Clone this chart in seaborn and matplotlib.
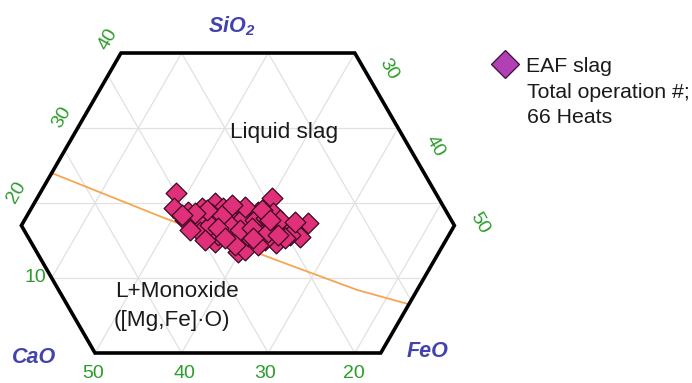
import matplotlib
matplotlib.use("Agg")
import matplotlib.pyplot as plt
import numpy as np
import pandas as pd
import seaborn as sns
from matplotlib.patches import Polygon
from matplotlib.lines import Line2D

# ---------------- data (wt%, section with CaO + SiO2 + FeO = 70) ----------------
cao = [30.0, 31.2, 29.9, 28.0, 26.1, 25.6, 24.1, 30.1, 28.3, 28.8,
       26.8, 26.7, 25.3, 26.8, 28.7, 26.6, 29.2, 19.2, 20.1, 23.1,
       21.8, 23.4, 22.2, 21.2, 20.0, 18.8, 16.7, 18.6, 21.9, 25.8,
       23.0, 30.8, 27.2, 25.5, 23.9, 22.7, 21.3, 19.8, 19.6, 29.8,
       27.9, 24.5, 22.8, 25.9, 28.2, 25.1, 23.5, 22.0, 20.4, 26.1,
       27.5, 29.1, 30.8, 26.6, 24.0, 21.0, 18.2, 22.9, 24.3, 27.5,
       21.2, 24.1, 27.3, 29.8, 30.8, 20.9]
sio2 = [21.3, 19.3, 18.8, 19.3, 20.0, 19.3, 19.1, 17.1, 18.0, 16.4,
        17.5, 16.1, 17.1, 13.5, 14.8, 15.1, 18.0, 20.7, 18.7, 18.7,
        18.8, 17.3, 17.1, 16.7, 16.7, 16.7, 17.3, 15.5, 14.7, 13.7,
        16.0, 17.7, 18.5, 18.3, 18.0, 17.7, 18.0, 17.7, 15.7, 16.1,
        15.7, 15.6, 15.1, 17.1, 17.1, 16.4, 16.7, 16.1, 15.3, 18.4,
        19.1, 18.7, 18.4, 14.4, 14.4, 15.7, 17.5, 19.5, 19.7, 16.7,
        19.1, 15.3, 15.3, 15.1, 16.4, 17.7]
feo = [18.7, 19.5, 21.3, 22.7, 23.9, 25.1, 26.9, 22.8, 23.7, 24.9,
       25.7, 27.2, 27.6, 29.8, 26.5, 28.3, 22.8, 30.1, 31.2, 28.2,
       29.4, 29.2, 30.7, 32.1, 33.4, 34.5, 35.9, 35.9, 33.5, 30.5,
       31.0, 21.5, 24.3, 26.2, 28.1, 29.6, 30.7, 32.5, 34.7, 24.1,
       26.4, 29.9, 32.1, 27.0, 24.7, 28.5, 29.8, 31.9, 34.3, 25.5,
       23.4, 22.2, 20.8, 29.0, 31.6, 33.3, 34.3, 27.6, 26.0, 25.8,
       29.7, 30.6, 27.4, 25.1, 22.8, 31.4]

# liquidus boundary (orange curve)
line_cao = [43.0, 33.0, 21.6, 15.5, 10.5]
line_sio2 = [24.0, 18.0, 11.7, 8.4, 6.5]
line_feo = [3.0, 19.0, 36.7, 46.1, 53.0]

# truncated (hexagonal) diagram frame
hex_cao = [50, 17, 0, 0, 27, 50]
hex_sio2 = [0, 0, 17, 40, 40, 17]
hex_feo = [20, 53, 53, 30, 3, 3]

# tick labels
bottom_ticks = ["50", "40", "30", "20"]      # CaO
left_ticks = ["10", "20", "30", "40"]        # SiO2
right_ticks = ["30", "40", "50"]             # FeO

legend_lines = ["EAF slag", "Total operation #;", "66 Heats"]

TOTAL = 70.0
S3 = np.sqrt(3) / 2


def tern(s, f):
    s = np.asarray(s, float)
    f = np.asarray(f, float)
    return f + s / 2.0, s * S3


# ---------------- figure ----------------
sns.set_theme(style="white")
plt.rcParams["font.family"] = ["Liberation Sans", "DejaVu Sans"]
plt.rcParams["mathtext.fontset"] = "custom"
plt.rcParams["mathtext.rm"] = "Liberation Sans:italic:bold"
plt.rcParams["mathtext.default"] = "rm"

W, H = 692, 383
fig = plt.figure(figsize=(W / 100, H / 100), dpi=100)
ax = fig.add_axes([0, 0, 1, 1])
scale = 8.66  # px per unit
x0 = 20 - 95 / scale
y0 = (353 - H) / scale
ax.set_xlim(x0, x0 + W / scale)
ax.set_ylim(y0, y0 + H / scale)
ax.axis("off")

hx, hy = tern(hex_sio2, hex_feo)
hexpoly = Polygon(np.column_stack([hx, hy]), closed=True, facecolor="white",
                  edgecolor="none", zorder=0)
ax.add_patch(hexpoly)

# grid lines (clipped to the hexagon)
grid_kw = dict(color="#e1e1e1", lw=0.9, zorder=1)
for s in [10, 20, 30]:
    gx, gy = tern([s, s], [0, TOTAL - s])
    l, = ax.plot(gx, gy, **grid_kw)
    l.set_clip_path(hexpoly)
for c in [10, 20, 30, 40]:
    gx, gy = tern([0, TOTAL - c], [TOTAL - c, 0])
    l, = ax.plot(gx, gy, **grid_kw)
    l.set_clip_path(hexpoly)
for f in [10, 20, 30, 40, 50]:
    gx, gy = tern([0, TOTAL - f], [f, f])
    l, = ax.plot(gx, gy, **grid_kw)
    l.set_clip_path(hexpoly)

# orange boundary
lx, ly = tern(line_sio2, line_feo)
ldf = pd.DataFrame({"x": lx, "y": ly})
sns.lineplot(data=ldf, x="x", y="y", sort=False, color="#f7a552", lw=1.3,
             ax=ax, zorder=3)

# frame
frame = Polygon(np.column_stack([hx, hy]), closed=True, facecolor="none",
                edgecolor="black", lw=2.6, joinstyle="miter", zorder=4)
ax.add_patch(frame)

# data
px, py = tern(sio2, feo)
df = pd.DataFrame({"x": px, "y": py, "CaO": cao})
sns.scatterplot(data=df, x="x", y="y", marker="D", s=112, color="#e0307a",
                edgecolor="#3a0a20", linewidth=0.9, ax=ax, zorder=5,
                legend=False)
ax.set_xlabel("")
ax.set_ylabel("")


def P(x, y):
    return (x / W, 1 - y / H)


green = "#2c9c2c"
tk = dict(color=green, fontsize=14, transform=fig.transFigure)
for lab, xx in zip(bottom_ticks, [93, 184, 265, 354]):
    fig.text(*P(xx, 373), lab, ha="center", va="center", **tk)
fig.text(*P(35, 278), left_ticks[0], ha="center", va="center", **tk)
for lab, (xx, yy) in zip(left_ticks[1:], [(17, 192), (62, 117), (108, 39)]):
    fig.text(*P(xx, yy), lab, ha="center", va="center", rotation=60,
             rotation_mode="anchor", **tk)
for lab, (xx, yy) in zip(right_ticks, [(389, 69), (435, 146), (480, 223)]):
    fig.text(*P(xx, yy), lab, ha="center", va="center", rotation=-60,
             rotation_mode="anchor", **tk)

blue = "#4343ad"
ck = dict(color=blue, fontsize=15.5, fontweight="bold", fontstyle="italic",
          ha="left", va="baseline", transform=fig.transFigure)
fig.text(*P(208, 32), "SiO$_2$", **ck)
fig.text(*P(12, 363), "CaO", **ck)
fig.text(*P(407, 357), "FeO", **ck)

tx = dict(color="#1a1a1a", fontsize=16.2, ha="left", va="baseline",
          transform=fig.transFigure)
fig.text(*P(230, 138), "Liquid slag", **tx)
fig.text(*P(115, 297), "L+Monoxide", **tx)
fig.text(*P(114, 326), "([Mg,Fe]·O)", **tx)

# legend
handle = Line2D([], [], marker="D", ls="", ms=14, mfc="#b23fb3",
                mec="#3a103a", mew=0.9)
leg = fig.legend(handles=[handle], labels=[legend_lines[0]], loc="center left",
                 bbox_to_anchor=P(494, 66), frameon=False, fontsize=15.3,
                 handlelength=1.0, handletextpad=0.5, borderpad=0,
                 borderaxespad=0)
for t in leg.get_texts():
    t.set_color("#1a1a1a")
lk = dict(color="#1a1a1a", fontsize=15.3, ha="left", va="baseline",
          transform=fig.transFigure)
fig.text(*P(527, 98), legend_lines[1], **lk)
fig.text(*P(527, 123), legend_lines[2], **lk)

fig.savefig("out.png", dpi=100)
